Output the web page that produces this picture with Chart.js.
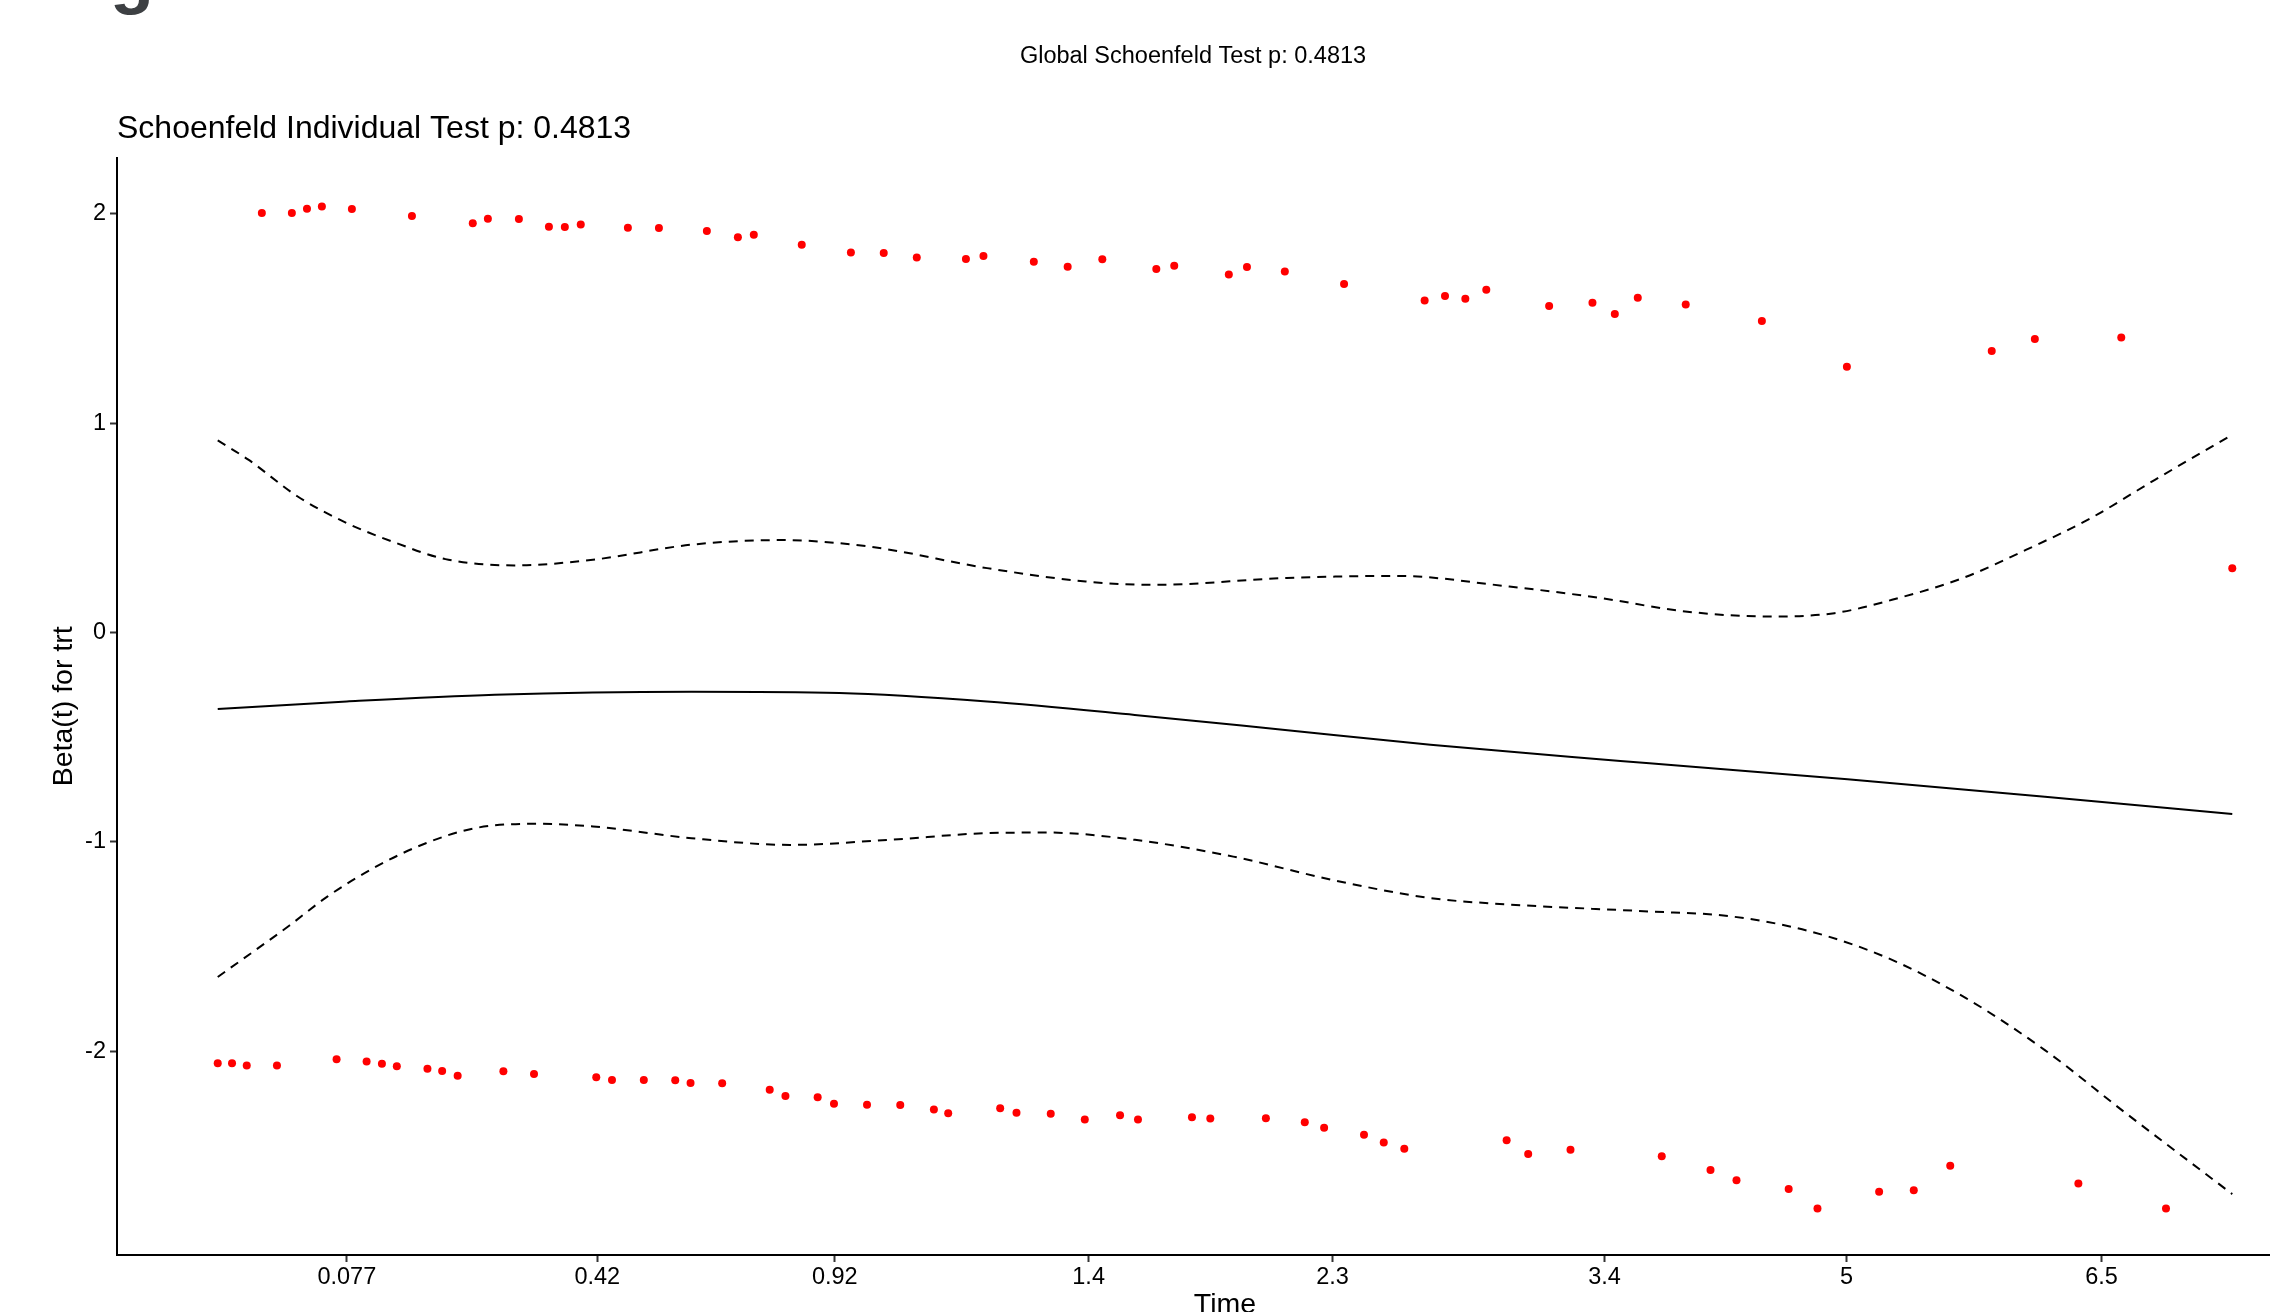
<!DOCTYPE html>
<html lang="en">

<head>
  <meta charset="UTF-8">
  <title>Schoenfeld residuals - trt</title>
  <script src="https://cdn.jsdelivr.net/npm/chart.js"></script>
  <style>
    html, body {
      margin: 0;
      padding: 0;
      overflow: hidden;
      background: #fff;
    }
    #wrap {
      position: absolute;
      left: 0;
      top: 0;
    }
  </style>
</head>

<body>
  <div id="wrap">
    <canvas id="zphChart" width="2387" height="1340"></canvas>
  </div>

  <script>
    // transformed (KM) time axis: ticks sit at these positions, labelled with real times
    const xTickPos = [0.0641, 0.1884, 0.3063, 0.4323, 0.5534, 0.6884, 0.8085, 0.9351];
    const xTickLabels = ['0.077', '0.42', '0.92', '1.4', '2.3', '3.4', '5', '6.5'];
    const yTicks = [-2, -1, 0, 1, 2];
    const yTickLabels = ['-2', '-1', '0', '1', '2'];

    // scaled Schoenfeld residuals, trt = 1 band
    const upperTime = [0.0219, 0.0368, 0.0443, 0.0517, 0.0666, 0.0964, 0.1266, 0.1341, 0.1495, 0.1644,
      0.1723, 0.1802, 0.2036, 0.2190, 0.2428, 0.2582, 0.2661, 0.2899, 0.3143, 0.3306,
      0.3470, 0.3714, 0.3801, 0.4051, 0.4219, 0.4391, 0.4659, 0.4748, 0.5019, 0.5109,
      0.5297, 0.5591, 0.5991, 0.6092, 0.6193, 0.6297, 0.6609, 0.6824, 0.6935, 0.7049,
      0.7287, 0.7665, 0.8087, 0.8806, 0.9020, 0.9449, 1.0000];
    const upperBeta = [2.003, 2.003, 2.024, 2.034, 2.023, 1.989, 1.954, 1.976, 1.975, 1.938,
      1.937, 1.948, 1.933, 1.932, 1.917, 1.887, 1.899, 1.852, 1.815, 1.812,
      1.791, 1.784, 1.798, 1.771, 1.747, 1.782, 1.736, 1.751, 1.710, 1.745,
      1.724, 1.664, 1.586, 1.607, 1.594, 1.637, 1.559, 1.575, 1.521, 1.598,
      1.566, 1.487, 1.269, 1.344, 1.401, 1.409, 0.307];

    // trt = 0 band
    const lowerTime = [0.0000, 0.0071, 0.0144, 0.0294, 0.0590, 0.0739, 0.0815, 0.0889, 0.1041, 0.1114,
      0.1191, 0.1418, 0.1570, 0.1879, 0.1957, 0.2115, 0.2271, 0.2347, 0.2504, 0.2740,
      0.2818, 0.2978, 0.3059, 0.3223, 0.3388, 0.3555, 0.3626, 0.3884, 0.3965, 0.4135,
      0.4304, 0.4479, 0.4568, 0.4836, 0.4927, 0.5203, 0.5396, 0.5492, 0.5690, 0.5788,
      0.5890, 0.6398, 0.6505, 0.6715, 0.7168, 0.7410, 0.7539, 0.7798, 0.7941, 0.8247,
      0.8419, 0.8600, 0.9236, 0.9671];
    const lowerBeta = [-2.058, -2.058, -2.069, -2.069, -2.039, -2.050, -2.061, -2.072, -2.084, -2.095,
      -2.118, -2.096, -2.109, -2.125, -2.138, -2.138, -2.139, -2.152, -2.153, -2.185,
      -2.215, -2.220, -2.252, -2.256, -2.258, -2.279, -2.297, -2.273, -2.295, -2.299,
      -2.327, -2.306, -2.327, -2.316, -2.322, -2.321, -2.340, -2.366, -2.400, -2.437,
      -2.467, -2.426, -2.491, -2.471, -2.502, -2.568, -2.617, -2.659, -2.752, -2.672,
      -2.665, -2.548, -2.632, -2.752];

    // smoothed beta(t) and its confidence band
    const fitTime = [0, 0.0641, 0.1375, 0.2352, 0.3086, 0.3819, 0.4552, 0.5286, 0.6020, 0.6753,
      0.7107, 0.8090, 0.9070, 1.0];
    const fitBeta = [-0.366, -0.330, -0.298, -0.284, -0.290, -0.330, -0.394, -0.465, -0.537, -0.598,
      -0.625, -0.702, -0.785, -0.868];

    const ciHighTime = [0, 0.0152, 0.0397, 0.0641, 0.0886, 0.1130, 0.1472, 0.1862, 0.2352, 0.2792,
      0.3233, 0.3819, 0.4309, 0.4651, 0.5286, 0.5847, 0.6411, 0.6859, 0.7284, 0.7708,
      0.8025, 0.8343, 0.8661, 0.8978, 0.9298, 0.9616, 1.0];
    const ciHighBeta = [0.917, 0.825, 0.649, 0.522, 0.427, 0.350, 0.320, 0.347, 0.419, 0.441,
      0.410, 0.307, 0.243, 0.227, 0.259, 0.270, 0.219, 0.165, 0.100, 0.076,
      0.092, 0.164, 0.259, 0.395, 0.546, 0.729, 0.944];

    const ciLowTime = [0, 0.0356, 0.0544, 0.0788, 0.1033, 0.1277, 0.1570, 0.1863, 0.2352, 0.2841,
      0.3330, 0.3819, 0.4113, 0.4553, 0.5041, 0.5531, 0.6020, 0.6413, 0.6820, 0.7107,
      0.7499, 0.7892, 0.8284, 0.8676, 0.9068, 0.9460, 1.0];
    const ciLowBeta = [-1.646, -1.400, -1.262, -1.118, -1.007, -0.935, -0.914, -0.927, -0.983, -1.015,
      -0.991, -0.959, -0.956, -0.991, -1.071, -1.182, -1.269, -1.300, -1.320, -1.333,
      -1.355, -1.425, -1.553, -1.746, -1.994, -2.288, -2.683];

    const pairs = (xs, ys) => xs.map((x, i) => ({ x: x, y: ys[i] }));

    const FONT = '"Liberation Sans", Arial, Helvetica, sans-serif';
    Chart.defaults.font.family = FONT;
    Chart.defaults.color = '#000';

    // panel letter of the original multi-panel figure, mostly cut off at the top
    const panelTag = {
      id: 'panelTag',
      afterDraw(chart) {
        const ctx = chart.ctx;
        ctx.save();
        ctx.font = 'bold 72px ' + FONT;
        ctx.fillStyle = '#3d4043';
        ctx.textBaseline = 'alphabetic';
        ctx.fillText('g', 110, 0);
        ctx.restore();
      }
    };

    const lineStyle = {
      type: 'line',
      borderColor: '#000',
      borderWidth: 2,
      pointRadius: 0,
      fill: false,
      cubicInterpolationMode: 'monotone'
    };

    new Chart(document.getElementById('zphChart'), {
      type: 'scatter',
      data: {
        datasets: [
          Object.assign({ label: 'beta(t)', data: pairs(fitTime, fitBeta) }, lineStyle),
          Object.assign({ label: 'upper CI', data: pairs(ciHighTime, ciHighBeta), borderDash: [9, 7] }, lineStyle),
          Object.assign({ label: 'lower CI', data: pairs(ciLowTime, ciLowBeta), borderDash: [9, 7] }, lineStyle),
          {
            label: 'residuals trt=1',
            data: pairs(upperTime, upperBeta),
            backgroundColor: '#ff0000',
            borderWidth: 0,
            pointRadius: 4
          },
          {
            label: 'residuals trt=0',
            data: pairs(lowerTime, lowerBeta),
            backgroundColor: '#ff0000',
            borderWidth: 0,
            pointRadius: 4
          }
        ]
      },
      options: {
        responsive: false,
        animation: false,
        layout: {
          padding: { left: 53, right: 54, top: 0, bottom: 0 }
        },
        plugins: {
          legend: { display: false },
          tooltip: { enabled: false },
          title: {
            display: true,
            text: 'Global Schoenfeld Test p: 0.4813',
            color: '#000',
            font: { size: 23.5, weight: 'normal', lineHeight: 1.2 },
            padding: { top: 42, bottom: 0 }
          },
          subtitle: {
            display: true,
            text: 'Schoenfeld Individual Test p: 0.4813',
            align: 'start',
            fullSize: false,
            color: '#000',
            font: { size: 32, weight: 'normal', lineHeight: 1.2 },
            padding: { top: 40, bottom: 9 }
          }
        },
        scales: {
          x: {
            type: 'linear',
            min: -0.05,
            max: 1.05,
            afterBuildTicks: function (scale) {
              scale.ticks = xTickPos.map(v => ({ value: v }));
            },
            afterFit: function (scale) {
              scale.height = 85;
            },
            ticks: {
              callback: (v, i) => xTickLabels[i],
              color: '#000',
              font: { size: 23.5 },
              padding: 1,
              autoSkip: false,
              maxRotation: 0
            },
            grid: {
              drawOnChartArea: false,
              tickLength: 7,
              tickWidth: 2,
              tickColor: '#333'
            },
            border: { display: true, color: '#000', width: 2 },
            title: {
              display: true,
              text: 'Time',
              color: '#000',
              font: { size: 28.5, lineHeight: 1.2 },
              padding: { top: 0, bottom: 18 }
            }
          },
          y: {
            type: 'linear',
            min: -2.974,
            max: 2.268,
            afterBuildTicks: function (scale) {
              scale.ticks = yTicks.map(v => ({ value: v }));
            },
            afterFit: function (scale) {
              scale.width = 64;
            },
            ticks: {
              callback: (v, i) => yTickLabels[i],
              color: '#000',
              font: { size: 23.5 },
              padding: 4
            },
            grid: {
              drawOnChartArea: false,
              tickLength: 7,
              tickWidth: 2,
              tickColor: '#333'
            },
            border: { display: true, color: '#000', width: 2 },
            title: {
              display: true,
              text: 'Beta(t) for trt',
              color: '#000',
              font: { size: 28.5, lineHeight: 1.2 },
              padding: { top: -6, bottom: 0 }
            }
          }
        }
      },
      plugins: [panelTag]
    });
  </script>
</body>

</html>
